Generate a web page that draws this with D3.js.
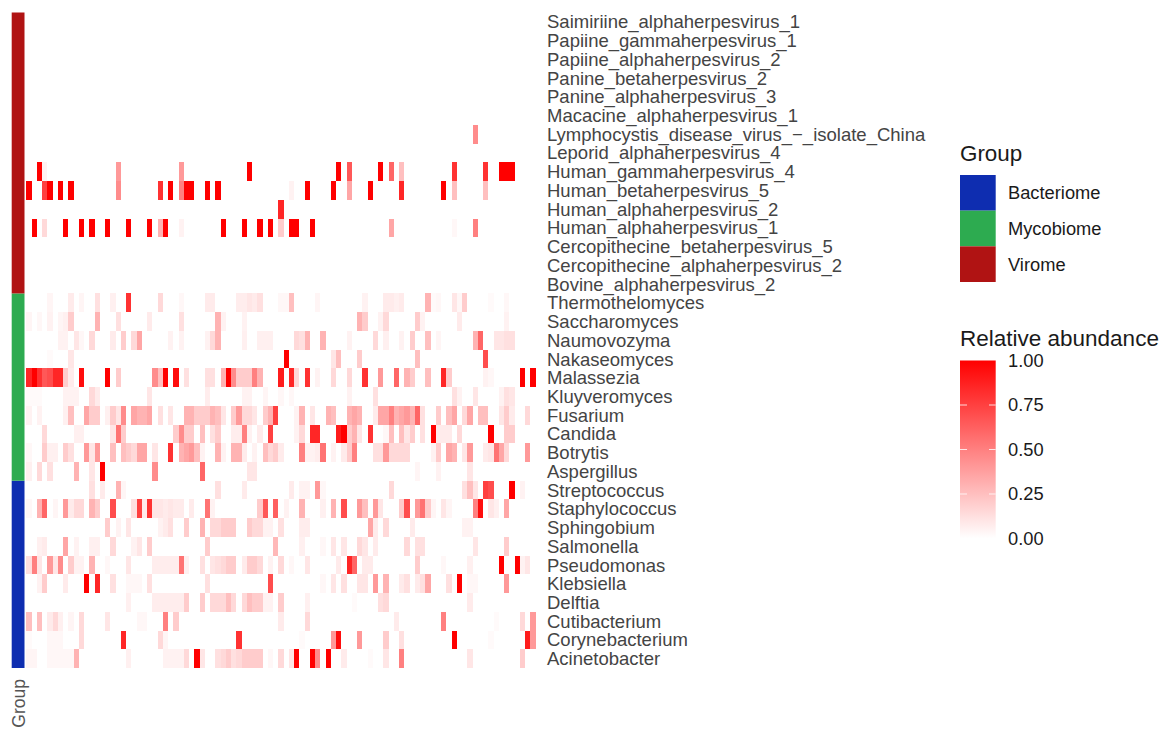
<!DOCTYPE html>
<html>
<head>
<meta charset="utf-8">
<title>Relative abundance heatmap</title>
<script src="https://cdn.jsdelivr.net/npm/d3@7"></script>
<style>
	body { margin: 0; background: #fff; }
	text { font-family: "Liberation Sans", Arial, sans-serif; }
	.row-axis path, .row-axis line, .bar-axis path, .bar-axis line { display: none; }
</style>
</head>
<body>
<div id="chart"></div>
<script>
// Row labels, top to bottom
const virusRows = ["Saimiriine_alphaherpesvirus_1", "Papiine_gammaherpesvirus_1", "Papiine_alphaherpesvirus_2",
	"Panine_betaherpesvirus_2", "Panine_alphaherpesvirus_3", "Macacine_alphaherpesvirus_1",
	"Lymphocystis_disease_virus_\u2212_isolate_China", "Leporid_alphaherpesvirus_4", "Human_gammaherpesvirus_4",
	"Human_betaherpesvirus_5", "Human_alphaherpesvirus_2", "Human_alphaherpesvirus_1",
	"Cercopithecine_betaherpesvirus_5", "Cercopithecine_alphaherpesvirus_2", "Bovine_alphaherpesvirus_2"];
const fungusRows = ["Thermothelomyces", "Saccharomyces", "Naumovozyma", "Nakaseomyces", "Malassezia",
	"Kluyveromyces", "Fusarium", "Candida", "Botrytis", "Aspergillus"];
const bacteriaRows = ["Streptococcus", "Staphylococcus", "Sphingobium", "Salmonella", "Pseudomonas",
	"Klebsiella", "Delftia", "Cutibacterium", "Corynebacterium", "Acinetobacter"];

const sampleCount = 97;

// Non-zero cells of each row as [sample index, relative abundance]
const lymphocystis = [[85,.45]];
const gamma4 = [[2,1],[3,.05],[17,.4],[29,.4],[42,1],[59,1],[61,.65],[67,1],[69,.6],[71,.25],[81,.8],[87,.8],[90,1],[91,1],[92,1]];
const beta5 = [[0,1],[3,.75],[4,1],[6,1],[8,1],[17,.45],[25,.8],[27,1],[29,.5],[30,1],[31,1],[34,1],[36,1],[50,.05],[53,1],[58,1],[61,.35],[65,1],[71,.85],[79,1],[81,.25],[87,.25]];
const alpha2 = [[48,.85]];
const alpha1 = [[1,1],[3,.15],[7,1],[10,1],[12,1],[15,1],[19,1],[23,1],[25,.3],[26,1],[29,.05],[37,1],[41,1],[44,1],[46,1],[48,.2],[50,1],[51,1],[54,1],[69,.35],[81,.03],[85,.5]];

const thermothelomyces = [[4,.04],[8,.08],[10,.04],[13,.12],[16,.06],[19,.8],[25,.15],[29,.03],[34,.08],[35,.08],[40,.07],[41,.07],[42,.1],[43,.08],[44,.12],[48,.03],[49,.03],[50,.25],[55,.04],[64,.05],[68,.08],[69,.08],[70,.06],[71,.08],[76,.3],[77,.02],[78,.03],[81,.1],[82,.03],[83,.2],[88,.02],[91,.03]];
const saccharomyces = [[0,.04],[2,.03],[4,.05],[6,.04],[7,.06],[8,.2],[13,.3],[17,.12],[23,.08],[29,.12],[36,.3],[37,.05],[41,.05],[63,.3],[64,.2],[67,.05],[68,.15],[74,.2],[75,.05],[82,.08],[91,.05]];
const naumovozyma = [[6,.05],[7,.05],[9,.1],[10,.03],[12,.15],[16,.08],[18,.2],[20,.15],[21,.35],[27,.05],[29,.05],[34,.05],[35,.15],[36,.3],[41,.06],[44,.06],[45,.06],[46,.06],[51,.15],[52,.12],[53,.3],[56,.3],[61,.05],[66,.15],[68,.06],[71,.05],[73,.2],[76,.25],[78,.04],[85,.3],[86,.6],[89,.1],[90,.1],[91,.12],[92,.12]];
const nakaseomyces = [[4,.02],[8,.1],[49,1],[58,.1],[59,.25],[63,.2],[74,.25],[87,.7]];
const malassezia = [[0,.85],[1,1],[2,.8],[3,.65],[4,.7],[5,.85],[6,.85],[7,.2],[8,.08],[10,.95],[15,1],[17,.2],[24,.45],[25,.25],[26,1],[28,.95],[30,.12],[34,.12],[35,.12],[37,.3],[38,1],[39,.45],[40,.2],[41,.2],[42,.2],[43,.5],[44,.3],[48,.9],[50,.85],[51,.15],[53,.8],[55,.05],[58,.15],[61,.15],[64,.8],[67,.4],[70,.6],[72,.3],[73,.2],[76,.25],[79,.85],[80,.2],[87,.05],[88,.03],[94,1],[96,1]];
const kluyveromyces = [[0,.02],[1,.02],[2,.02],[7,.05],[8,.05],[9,.05],[12,.15],[13,.08],[23,.1],[34,.07],[41,.05],[42,.05],[45,.04],[48,.03],[50,.03],[61,.05],[66,.12],[81,.12],[82,.05],[85,.1],[90,.05],[91,.12],[92,.1]];
const fusarium = [[0,.05],[2,.05],[7,.06],[8,.25],[11,.35],[12,.2],[13,.2],[15,.06],[16,.2],[17,.1],[18,.45],[20,.35],[21,.3],[22,.3],[23,.35],[25,.12],[27,.1],[30,.3],[31,.3],[32,.2],[33,.2],[34,.2],[35,.3],[36,.25],[37,.1],[39,.2],[40,.4],[41,.15],[42,.15],[43,.1],[45,.2],[46,.3],[47,.75],[51,.05],[52,.3],[54,.1],[57,.3],[58,.25],[61,.3],[62,.35],[63,.3],[66,.08],[67,.35],[68,.35],[69,.5],[70,.3],[71,.35],[72,.4],[73,.3],[74,.6],[75,.12],[78,.2],[80,.25],[81,.35],[83,.15],[84,.35],[86,.25],[87,.25],[90,.1],[91,.2],[92,.08],[95,.15]];
const candida = [[3,.15],[9,.06],[10,.06],[16,.1],[17,.55],[18,.2],[28,.2],[29,.45],[30,.2],[31,.2],[33,.25],[35,.12],[36,.2],[39,.07],[40,.07],[41,.5],[42,.05],[44,.08],[46,.75],[51,.05],[52,.15],[54,.85],[55,.85],[59,.9],[60,1],[61,.2],[62,.3],[63,.1],[65,.8],[68,.03],[69,.25],[71,.25],[72,.1],[73,.2],[75,.12],[77,1],[78,.08],[79,.08],[80,.08],[82,.15],[88,1],[91,.2],[92,.2]];
const botrytis = [[0,.03],[3,.2],[4,.06],[5,.06],[7,.2],[8,.12],[11,.4],[12,.1],[13,.4],[16,.25],[18,.25],[19,.2],[20,.15],[21,.35],[22,.35],[24,.1],[27,.8],[29,.3],[30,.35],[31,.4],[32,.25],[33,.05],[36,.3],[37,.05],[39,.3],[40,.3],[41,.08],[43,.05],[45,.25],[46,.15],[47,.2],[48,.08],[52,.5],[53,.05],[54,.05],[55,.07],[56,.55],[58,.05],[60,.08],[61,.2],[62,.5],[66,.12],[67,.12],[68,.4],[69,.15],[70,.15],[71,.15],[72,.15],[77,.05],[78,.2],[80,.35],[81,.3],[83,.1],[84,.4],[87,.08],[88,.1],[89,.55],[90,.35],[91,.15],[95,.4]];
const aspergillus = [[0,.06],[2,.15],[4,.12],[9,.3],[12,.1],[14,1],[24,.45],[33,.6],[42,.1],[43,.1],[74,.04],[78,.05],[84,.1]];

const streptococcus = [[12,.12],[14,.08],[17,.3],[18,.04],[36,.12],[41,.08],[50,.08],[52,.05],[53,.05],[55,.4],[56,.03],[69,.15],[83,.12],[84,.25],[85,.1],[87,.75],[88,.7],[92,1],[94,.05]];
const staphylococcus = [[0,.03],[2,.3],[3,.6],[5,.04],[7,.4],[8,.08],[9,.15],[10,.15],[12,.3],[13,.2],[16,.7],[20,.12],[21,.75],[22,.08],[23,.8],[24,.1],[25,.1],[26,.08],[27,.1],[28,.08],[29,.08],[31,.08],[34,.55],[35,.05],[44,.2],[45,.65],[47,.62],[49,.05],[52,.3],[56,.06],[58,.3],[60,.7],[63,.4],[64,.25],[66,.4],[67,.1],[71,.2],[72,.7],[74,.4],[75,.55],[76,.2],[77,.04],[79,.1],[80,.04],[85,.5],[86,.95],[88,.1],[89,.06],[91,.35]];
const sphingobium = [[15,.2],[17,.05],[19,.1],[25,.05],[26,.08],[27,.12],[30,.2],[33,.3],[35,.15],[36,.15],[37,.2],[38,.2],[39,.2],[42,.2],[43,.15],[44,.15],[45,.05],[46,.05],[48,.12],[52,.07],[53,.07],[65,.35],[66,.08],[68,.15],[73,.08],[83,.05],[84,.05]];
const salmonella = [[2,.06],[3,.08],[7,.35],[9,.05],[12,.06],[13,.06],[16,.15],[20,.05],[21,.1],[23,.2],[34,.2],[47,.28],[52,.06],[56,.03],[58,.1],[60,.1],[63,.15],[64,.1],[66,.08],[72,.15],[74,.12],[75,.12],[85,.1],[91,.2]];
const pseudomonas = [[0,.12],[1,.5],[2,.1],[4,.4],[5,.1],[6,.45],[8,.2],[9,.05],[10,.05],[12,.3],[15,.03],[19,.1],[24,.07],[25,.07],[26,.07],[27,.07],[28,.07],[29,.55],[30,.06],[33,.12],[35,.1],[36,.12],[37,.15],[38,.2],[39,.2],[41,.08],[42,.2],[43,.2],[44,.15],[46,.05],[48,.15],[50,.03],[53,.1],[59,.08],[61,.85],[62,.6],[64,.08],[65,.08],[74,.2],[79,.03],[84,.06],[90,1],[93,1],[94,.05],[95,.1]];
const klebsiella = [[2,.05],[3,.2],[7,.08],[11,1],[13,.85],[16,.12],[19,.03],[20,.03],[21,.03],[23,.12],[34,.12],[46,.7],[56,.03],[58,.1],[60,.12],[63,.1],[64,.1],[66,.4],[68,.3],[71,.08],[72,.12],[74,.08],[75,.12],[76,.35],[80,.12],[82,1],[84,.03],[85,.03],[91,.4]];
const delftia = [[19,.06],[24,.07],[25,.07],[26,.07],[27,.07],[28,.07],[29,.07],[30,.2],[33,.2],[35,.15],[36,.15],[37,.15],[38,.25],[39,.15],[41,.15],[42,.25],[43,.2],[44,.2],[45,.05],[46,.05],[48,.2],[53,.06],[62,.02],[67,.12],[68,.15],[84,.08]];
const cutibacterium = [[0,.25],[2,.25],[4,.08],[5,.15],[6,.06],[8,.04],[10,.15],[15,.1],[21,.03],[22,.03],[26,.5],[28,.2],[48,.08],[53,.15],[70,.08],[79,.5],[89,.02],[94,.15],[96,.4]];
const corynebacterium = [[0,.02],[4,.03],[5,.03],[6,.03],[10,.15],[18,.85],[25,.15],[26,.04],[40,.8],[52,.02],[58,.4],[59,.95],[63,.4],[68,.2],[71,.12],[81,1],[88,.02],[95,.9],[96,.4]];
const acinetobacter = [[0,.04],[1,.04],[4,.03],[5,.03],[6,.03],[7,.03],[8,.03],[9,.3],[19,.06],[26,.05],[27,.05],[28,.05],[29,.05],[30,.15],[32,1],[33,.1],[36,.12],[37,.15],[38,.2],[39,.12],[40,.15],[41,.2],[42,.2],[43,.2],[44,.2],[46,.03],[48,.15],[50,.1],[51,1],[54,1],[55,.45],[57,1],[60,.08],[65,.02],[68,.1],[71,.5],[84,.1],[94,.2]];

// Same order as the row labels, empty rows are all but white in the picture
const rowCells = [[], [], [], [], [], [], lymphocystis, [], gamma4, beta5, alpha2, alpha1, [], [], [],
	thermothelomyces, saccharomyces, naumovozyma, nakaseomyces, malassezia, kluyveromyces, fusarium, candida, botrytis, aspergillus,
	streptococcus, staphylococcus, sphingobium, salmonella, pseudomonas, klebsiella, delftia, cutibacterium, corynebacterium, acinetobacter];

const groupNames = ["Bacteriome", "Mycobiome", "Virome"];
const groupColors = ["#0e2db0", "#2dab50", "#b01313"];
const groupRows = [bacteriaRows, fungusRows, virusRows];
const legendTicks = [0, 0.25, 0.5, 0.75, 1];

const width = 1161, height = 729;
const rows = virusRows.concat(fungusRows, bacteriaRows);

const svg = d3.select("#chart").append("svg")
	.attr("width", width)
	.attr("height", height)
	.style("display", "block");

// soft edge, the cells in the picture are a little out of focus
const defs = svg.append("defs");
defs.append("filter")
	.attr("id", "soft")
	.append("feGaussianBlur")
	.attr("stdDeviation", 0.4);

// Scales
const xScale = d3.scaleBand().domain(d3.range(sampleCount)).range([26.3, 535.5]);
const yScale = d3.scaleBand().domain(rows).range([12.5, 668]);
const colorScale = d3.scaleLinear().domain([0, 1]).range(["#ffffff", "#ff0000"]);

// Heatmap cells
const cells = rows.flatMap((name, i) => rowCells[i].map(c => ({ row: name, sample: c[0], value: c[1] })));

svg.append("g")
	.attr("filter", "url(#soft)")
	.attr("shape-rendering", "crispEdges")
	.selectAll("rect")
	.data(cells)
	.enter()
	.append("rect")
	.attr("x", d => xScale(d.sample))
	.attr("y", d => yScale(d.row))
	.attr("width", xScale.bandwidth())
	.attr("height", yScale.bandwidth())
	.attr("fill", d => colorScale(d.value));

// Annotation strip on the left
svg.append("g").selectAll("rect")
	.data(groupNames)
	.enter()
	.append("rect")
	.attr("x", 11.7)
	.attr("width", 12.8)
	.attr("y", (d, i) => yScale(groupRows[i][0]))
	.attr("height", (d, i) => yScale.bandwidth() * groupRows[i].length)
	.attr("fill", (d, i) => groupColors[i]);

svg.append("text")
	.attr("transform", "translate(24.5,679) rotate(-90)")
	.attr("text-anchor", "end")
	.attr("fill", "#555")
	.style("font-size", "17.5px")
	.text("Group");

// Row labels
const rowAxis = svg.append("g")
	.attr("class", "row-axis")
	.attr("transform", "translate(547,0.6)")
	.call(d3.axisRight(yScale).tickSize(0).tickPadding(0));

rowAxis.selectAll("text")
	.attr("fill", "#444")
	.style("font-size", "18.5px");

// Group legend
svg.append("text")
	.attr("x", 960)
	.attr("y", 161)
	.attr("fill", "#1a1a1a")
	.style("font-size", "22.4px")
	.text("Group");

const groupLegend = d3.scaleBand().domain(groupNames).range([175, 282]);

svg.append("g").selectAll("rect")
	.data(groupNames)
	.enter()
	.append("rect")
	.attr("x", 960)
	.attr("y", d => groupLegend(d))
	.attr("width", 35.7)
	.attr("height", groupLegend.bandwidth())
	.attr("fill", (d, i) => groupColors[i]);

svg.append("g").selectAll("text")
	.data(groupNames)
	.enter()
	.append("text")
	.attr("x", 1008)
	.attr("y", d => groupLegend(d) + groupLegend.bandwidth() / 2)
	.attr("dy", "0.35em")
	.attr("fill", "#1a1a1a")
	.style("font-size", "18.3px")
	.text(d => d);

// Colour bar legend
svg.append("text")
	.attr("x", 960)
	.attr("y", 346)
	.attr("fill", "#1a1a1a")
	.style("font-size", "22.5px")
	.text("Relative abundance");

const barScale = d3.scaleLinear().domain([0, 1]).range([538.5, 360.5]);

const gradient = defs.append("linearGradient")
	.attr("id", "bar-gradient")
	.attr("x1", 0).attr("x2", 0)
	.attr("y1", 1).attr("y2", 0);

gradient.selectAll("stop")
	.data(legendTicks)
	.enter()
	.append("stop")
	.attr("offset", d => d)
	.attr("stop-color", d => colorScale(d));

svg.append("rect")
	.attr("x", 960)
	.attr("y", barScale(1))
	.attr("width", 35.7)
	.attr("height", barScale(0) - barScale(1))
	.attr("fill", "url(#bar-gradient)");

// white tick marks on both edges of the bar
[[960, 967], [989, 995.7]].forEach(span => {
	svg.append("g").selectAll("line")
		.data(legendTicks.slice(1, 4))
		.enter()
		.append("line")
		.attr("x1", span[0])
		.attr("x2", span[1])
		.attr("y1", d => barScale(d))
		.attr("y2", d => barScale(d))
		.attr("stroke", "#fff")
		.attr("stroke-width", 0.8);
});

const barAxis = svg.append("g")
	.attr("class", "bar-axis")
	.attr("transform", "translate(1008,0)")
	.call(d3.axisRight(barScale).tickValues(legendTicks).tickFormat(d3.format(".2f")).tickSize(0).tickPadding(0));

barAxis.selectAll("text")
	.attr("fill", "#1a1a1a")
	.style("font-size", "18.3px");
</script>
</body>
</html>
